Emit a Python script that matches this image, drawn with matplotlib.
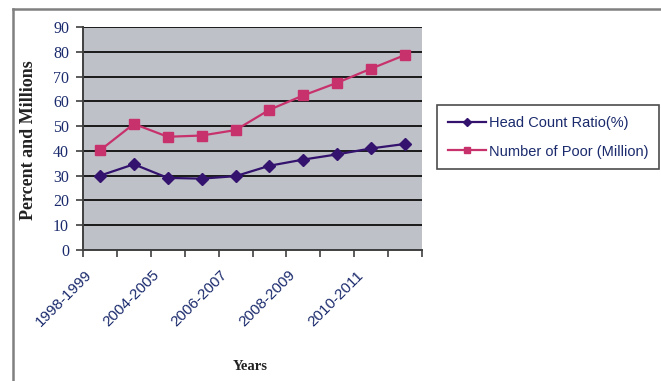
import matplotlib
matplotlib.use("Agg")
import matplotlib.pyplot as plt
from matplotlib.lines import Line2D
import numpy as np

categories = list(range(10))
tick_labels = ["1998-1999", "2004-2005", "2006-2007", "2008-2009", "2010-2011"]
head_count = [30, 34.6, 29.1, 28.8, 29.8, 34.0, 36.5, 38.6, 41.0, 42.8]
num_poor = [40.2, 50.9, 45.7, 46.2, 48.4, 56.6, 62.4, 67.5, 73.2, 78.7]

W, H = 661, 381
fig = plt.figure(figsize=(W / 100, H / 100), dpi=100)
fig.patch.set_facecolor("white")

# outer frame lines (top and left)
fig.add_artist(Line2D([13 / W, 1.0], [1 - 9 / H, 1 - 9 / H], color="#808080", lw=1.8))
fig.add_artist(Line2D([13 / W, 13 / W], [0, 1 - 9 / H], color="#808080", lw=1.8))

ax = fig.add_axes([83 / W, 1 - 250 / H, (422 - 83) / W, (250 - 27) / H])
ax.set_facecolor("#bfc1c9")

navy = "#1a2a6c"
l1, = ax.plot(categories, head_count, color="#33136e", lw=1.6, marker="D",
              markersize=6, label="Head Count Ratio(%)")
l2, = ax.plot(categories, num_poor, color="#c8326c", lw=1.6, marker="s",
              markersize=6.5, label="Number of Poor (Million)")

ax.set_xlim(-0.5, 9.5)
ax.set_ylim(0, 90)
ax.set_yticks(np.arange(0, 91, 10))
ax.yaxis.grid(True, color="#1a1a1a", lw=1.4)
ax.set_axisbelow(True)

for s in ["top", "right"]:
    ax.spines[s].set_visible(False)
ax.spines["left"].set_color("#404040")
ax.spines["left"].set_linewidth(1.4)
ax.spines["bottom"].set_color("#404040")
ax.spines["bottom"].set_linewidth(1.4)

ax.set_xticks(np.arange(-0.5, 10, 1), minor=True)
ax.set_xticks([-0.45, 1.55, 3.55, 5.55, 7.55])
ax.set_xticklabels(tick_labels, rotation=45, ha="right", rotation_mode="anchor",
                   fontsize=11, color=navy, family="Liberation Sans")
ax.tick_params(axis="x", which="major", length=0, pad=13)
ax.tick_params(axis="x", which="minor", length=5, width=1.2, color="#404040")
ax.tick_params(axis="y", length=5, width=1.2, color="#404040", labelsize=11.5,
               labelcolor=navy, pad=5)
for t in ax.get_yticklabels():
    t.set_family("Liberation Serif")

fig.text(29 / W, 1 - 140 / H, "Percent and Millions", rotation=90, ha="center",
         va="center", fontsize=13, fontweight="bold", family="Liberation Serif",
         color="#222222")
fig.text(250 / W, 1 - 367 / H, "Years", ha="center", va="center", fontsize=10.5,
         fontweight="bold", family="Liberation Serif", color="#222222")

leg = fig.legend(handles=[l1, l2], loc="upper left",
                 bbox_to_anchor=(437 / W, 1 - 105 / H), frameon=True,
                 fancybox=False, edgecolor="#202020",
                 prop={"family": "Liberation Sans", "size": 10.5},
                 handlelength=2.6, borderaxespad=0, labelspacing=1.0,
                 handletextpad=0.2, borderpad=0.75, markerscale=0.75)
for t in leg.get_texts():
    t.set_color(navy)
leg.get_frame().set_linewidth(1.2)

fig.savefig("out.png", dpi=100)
